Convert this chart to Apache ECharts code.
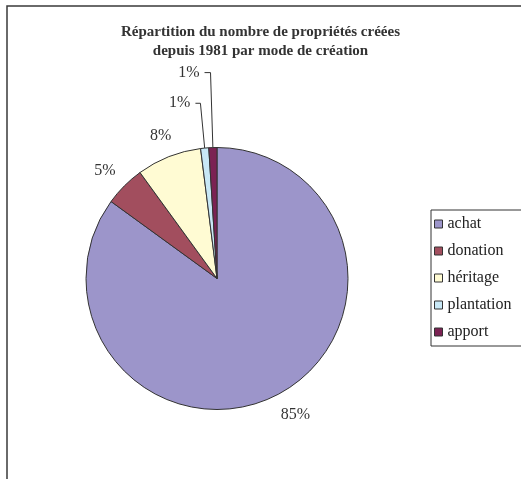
<!DOCTYPE html>
<html><head><meta charset="utf-8">
<script src="https://cdn.jsdelivr.net/npm/echarts@6/dist/echarts.min.js"></script>
<style>html,body{margin:0;padding:0;background:#fff}#c{width:521px;height:479px}</style>
</head><body><div id="c"></div>
<script>
// ---- data ----
const titleLines = ['Répartition du nombre de propriétés créées', 'depuis 1981 par mode de création'];
const categories = ['achat', 'donation', 'héritage', 'plantation', 'apport'];
const values = [85, 5, 8, 1, 1];

// ---- styles ----
const colors = ['#9c95ca', '#a24e5e', '#fffbd3', '#c8e8f6', '#7b2253'];
const labelLen = [22, 22, 22, 45, 75];
const labelLen2 = [9, 4, 0, 5, 6];
const showLine = [false, false, false, true, true];
const FONT = 'Liberation Serif';

const chart = echarts.init(document.getElementById('c'), null, {renderer: 'canvas'});
chart.setOption({
  animation: false,
  backgroundColor: '#fff',
  graphic: [{
    type: 'rect', silent: true, z: -1,
    shape: {x: 7, y: 6, width: 700, height: 700},
    style: {fill: 'none', stroke: '#3a3a3a', lineWidth: 1.5}
  }],
  title: {
    text: titleLines.join('\n'),
    left: 'center', top: 23, padding: 0,
    textStyle: {fontFamily: FONT, fontSize: 15, fontWeight: 'bold', color: '#333', lineHeight: 19}
  },
  legend: {
    orient: 'vertical', left: 431, top: 210,
    padding: [6, 30, 6, 3],
    itemWidth: 8, itemHeight: 8, itemGap: 11,
    borderColor: '#333', borderWidth: 1, borderRadius: 0,
    icon: 'rect',
    itemStyle: {borderColor: '#333', borderWidth: 1},
    textStyle: {fontFamily: FONT, fontSize: 16, color: '#222', lineHeight: 16},
    data: categories
  },
  series: [{
    type: 'pie',
    center: [217, 278.5],
    radius: 131,
    startAngle: 90,
    clockwise: true,
    avoidLabelOverlap: false,
    emphasis: {disabled: true},
    itemStyle: {borderColor: '#333', borderWidth: 1},
    label: {show: true, position: 'outside', formatter: '{d}%', fontFamily: FONT, fontSize: 16, color: '#333'},
    labelLine: {lineStyle: {color: '#333', width: 1}},
    labelLayout: function (p) {
      if (showLine[p.dataIndex]) return {};
      return {align: 'center', dx: p.align === 'right' ? 5 : -5};
    },
    data: categories.map((n, i) => ({
      name: n, value: values[i],
      itemStyle: {color: colors[i]},
      labelLine: {show: showLine[i], length: labelLen[i], length2: labelLen2[i]}
    }))
  }]
});
</script></body></html>
